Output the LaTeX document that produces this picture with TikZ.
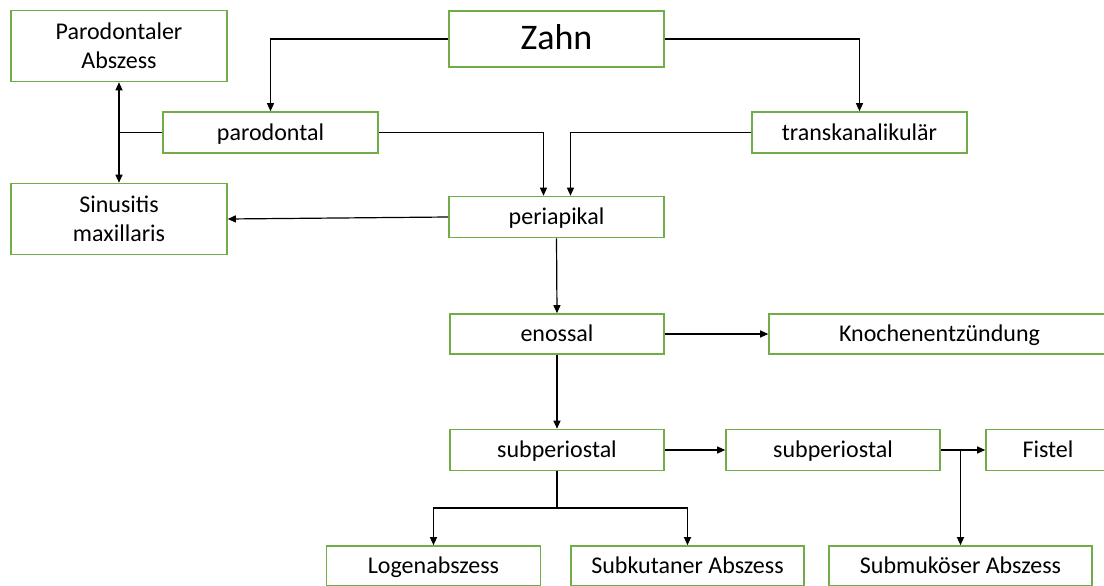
\documentclass[tikz,border=0pt]{standalone}
\usepackage{fontspec}
\setmainfont{Carlito}
\usetikzlibrary{arrows.meta}
\definecolor{boxgreen}{RGB}{112,173,71}
\tikzset{
	box/.style={draw=boxgreen,line width=1.6pt,inner sep=0pt,align=center,
		minimum height=41pt,font=\fontsize{24}{29}\selectfont},
	oneline/.style={box,text height=19pt,text depth=4pt},
	link/.style={line width=1.2pt},
	tip/.style={link,-{Triangle[length=8pt,width=7pt]}}
}
\begin{document}
\begin{tikzpicture}[x=1pt,y=-1pt]
	\clip (0,0) rectangle (1104,586);
	\fill[white] (0,0) rectangle (1104,586);
	\node[box,minimum width=216pt,minimum height=71pt] (absz) at (119,46) {Parodontaler\\Abszess};
	\node[box,minimum width=215pt,minimum height=56pt,font=\fontsize{36}{40}\selectfont,text height=26pt,text depth=4pt] (zahn) at (556.5,39) {Zahn};
	\node[oneline,minimum width=215pt] (parod) at (270.5,132.5) {parodontal};
	\node[oneline,minimum width=215pt] (trans) at (859.5,132.5) {transkanalikulär};
	\node[box,minimum width=216pt,minimum height=71pt] (sinus) at (119,219) {Sinusitis\\maxillaris};
	\node[oneline,minimum width=215pt] (peri) at (556.5,217) {periapikal};
	\node[oneline,minimum width=214pt,minimum height=40pt] (enos) at (557,334) {enossal};
	\node[oneline,minimum width=341pt,minimum height=40pt] (knochen) at (939.5,334) {Knochenentzündung};
	\node[oneline,minimum width=214pt] (subpA) at (557,450) {subperiostal};
	\node[oneline,minimum width=214pt] (subpB) at (833,450) {subperiostal};
	\node[oneline,minimum width=124pt] (fistel) at (1048,450) {Fistel};
	\node[oneline,minimum width=214pt,minimum height=40pt] (logen) at (433.5,566) {Logenabszess};
	\node[oneline,minimum width=233pt,minimum height=40pt] (subkut) at (687.5,566) {Subkutaner Abszess};
	\node[oneline,minimum width=263pt,minimum height=40pt] (submuk) at (960.5,566) {Submuköser Abszess};
	\draw[tip] (zahn.west) -| (parod.north);
	\draw[tip] (zahn.east) -| (trans.north);
	\draw[tip] (parod.east) -| ([xshift=-13pt]peri.north);
	\draw[tip] (trans.west) -| ([xshift=14pt]peri.north);
	\draw[tip] (peri.west) -- (sinus.east);
	\draw[link,{Triangle[length=8pt,width=7pt]}-{Triangle[length=8pt,width=7pt]}] (absz.south) -- (sinus.north);
	\draw[link] (parod.west) -- (absz.south |- parod.west);
	\draw[tip] (peri.south) -- (enos.north);
	\draw[tip] (enos.east) -- (knochen.west);
	\draw[tip] (enos.south) -- (subpA.north);
	\draw[tip] (subpA.east) -- (subpB.west);
	\draw[tip] (subpB.east) -- (fistel.west);
	\coordinate (fork) at (submuk.north |- subpB.east);
	\draw[tip] (fork) -- (submuk.north);
	\coordinate (split) at (557,508);
	\draw[link] (subpA.south) -- (split);
	\draw[tip] (split) -| (logen.north);
	\draw[tip] (split) -| (subkut.north);
\end{tikzpicture}
\end{document}
